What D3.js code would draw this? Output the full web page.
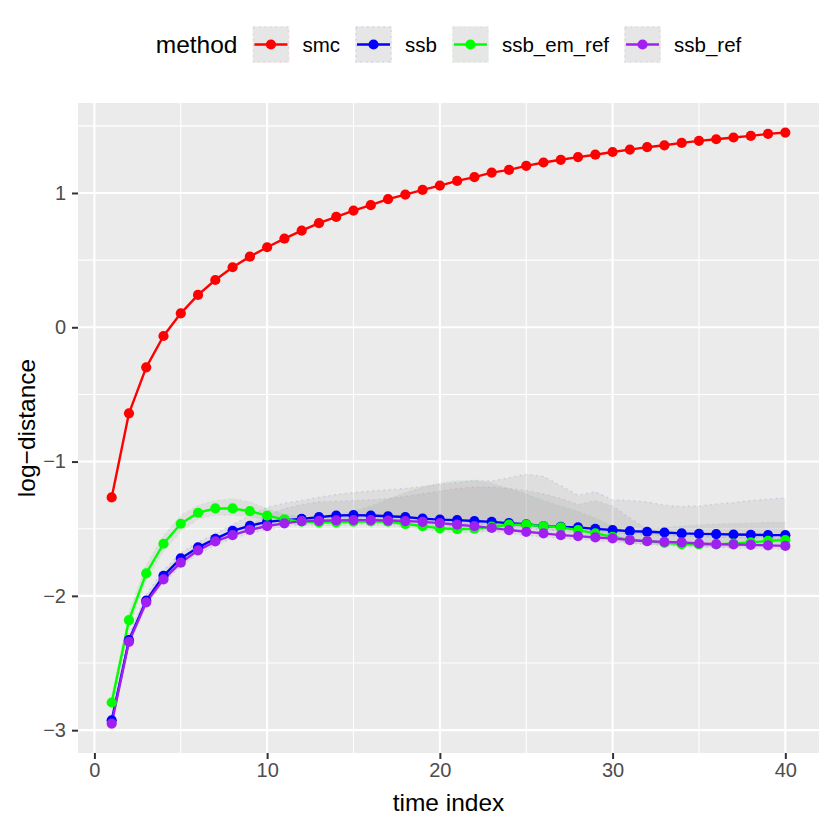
<!DOCTYPE html>
<html lang="en">
<head>
    <meta charset="UTF-8">
    <title>log-distance by method</title>
    <script src="https://d3js.org/d3.v7.min.js"></script>
    <style>
        body { margin: 0; background: #fff; }
        text { font-family: "Liberation Sans", Arial, sans-serif; }
    </style>
</head>
<body>
    <svg id="chart"></svg>

    <script>
        // time index 1..40
        const timeIndex = d3.range(1, 41);

        const methods = ["smc", "ssb", "ssb_em_ref", "ssb_ref"];
        const colors = ["#FF0000", "#0000FF", "#00FF00", "#A020F0"];

        const smc = [-1.267, -0.641, -0.298, -0.065, 0.104, 0.241, 0.352, 0.447, 0.526, 0.596,
            0.66, 0.72, 0.775, 0.822, 0.869, 0.909, 0.954, 0.988, 1.023, 1.055,
            1.09, 1.118, 1.152, 1.172, 1.202, 1.227, 1.247, 1.267, 1.285, 1.305,
            1.323, 1.341, 1.355, 1.373, 1.388, 1.40, 1.413, 1.425, 1.44, 1.45];
        const ssb = [-2.926, -2.33, -2.035, -1.851, -1.721, -1.639, -1.575, -1.516, -1.478, -1.449,
            -1.436, -1.427, -1.414, -1.402, -1.399, -1.402, -1.407, -1.413, -1.425, -1.432,
            -1.436, -1.443, -1.449, -1.458, -1.467, -1.481, -1.486, -1.49, -1.501, -1.51,
            -1.518, -1.523, -1.528, -1.535, -1.538, -1.54, -1.543, -1.545, -1.548, -1.548];
        const ssbEmRef = [-2.794, -2.181, -1.833, -1.612, -1.463, -1.381, -1.349, -1.349, -1.369, -1.403,
            -1.43, -1.447, -1.452, -1.452, -1.447, -1.445, -1.448, -1.465, -1.48, -1.497,
            -1.504, -1.50, -1.485, -1.47, -1.47, -1.481, -1.49, -1.51, -1.535, -1.56,
            -1.583, -1.593, -1.605, -1.615, -1.617, -1.617, -1.61, -1.602, -1.59, -1.585];
        const ssbRef = [-2.951, -2.342, -2.048, -1.877, -1.753, -1.661, -1.594, -1.547, -1.508, -1.48,
            -1.46, -1.443, -1.441, -1.438, -1.436, -1.436, -1.439, -1.443, -1.449, -1.458,
            -1.47, -1.481, -1.494, -1.51, -1.523, -1.535, -1.548, -1.555, -1.565, -1.572,
            -1.585, -1.593, -1.598, -1.602, -1.61, -1.615, -1.617, -1.62, -1.624, -1.628];

        // ribbon bounds
        const ssbLo = [-2.96, -2.36, -2.065, -1.88, -1.75, -1.67, -1.605, -1.545, -1.505, -1.475,
            -1.46, -1.45, -1.44, -1.43, -1.425, -1.425, -1.43, -1.435, -1.445, -1.455,
            -1.46, -1.465, -1.47, -1.48, -1.49, -1.505, -1.51, -1.515, -1.525, -1.535,
            -1.54, -1.545, -1.55, -1.555, -1.56, -1.565, -1.565, -1.57, -1.57, -1.575];
        const ssbHi = [-2.89, -2.29, -1.99, -1.81, -1.68, -1.60, -1.535, -1.47, -1.40, -1.34,
            -1.31, -1.29, -1.265, -1.245, -1.23, -1.22, -1.21, -1.20, -1.185, -1.17,
            -1.155, -1.14, -1.145, -1.12, -1.095, -1.11, -1.18, -1.25, -1.225, -1.285,
            -1.29, -1.30, -1.325, -1.335, -1.33, -1.315, -1.305, -1.29, -1.28, -1.27];
        const ssbEmRefLo = [-2.85, -2.24, -1.89, -1.67, -1.52, -1.43, -1.40, -1.40, -1.41, -1.435,
            -1.46, -1.475, -1.48, -1.48, -1.475, -1.475, -1.48, -1.49, -1.505, -1.52,
            -1.53, -1.53, -1.52, -1.505, -1.505, -1.51, -1.52, -1.54, -1.56, -1.585,
            -1.605, -1.615, -1.625, -1.635, -1.64, -1.64, -1.635, -1.63, -1.62, -1.615];
        const ssbEmRefHi = [-2.74, -2.12, -1.77, -1.55, -1.40, -1.325, -1.29, -1.275, -1.30, -1.35,
            -1.39, -1.41, -1.42, -1.40, -1.37, -1.33, -1.28, -1.23, -1.19, -1.16,
            -1.14, -1.14, -1.16, -1.20, -1.24, -1.29, -1.33, -1.37, -1.42, -1.48,
            -1.52, -1.50, -1.49, -1.48, -1.47, -1.465, -1.46, -1.455, -1.45, -1.45];
        const ssbRefLo = [-2.98, -2.37, -2.075, -1.905, -1.78, -1.69, -1.625, -1.575, -1.535, -1.505,
            -1.485, -1.47, -1.465, -1.465, -1.46, -1.46, -1.465, -1.47, -1.475, -1.485,
            -1.495, -1.505, -1.52, -1.535, -1.55, -1.56, -1.575, -1.58, -1.59, -1.60,
            -1.61, -1.62, -1.625, -1.63, -1.635, -1.64, -1.645, -1.645, -1.65, -1.655];
        const ssbRefHi = [-2.92, -2.31, -2.015, -1.845, -1.72, -1.63, -1.565, -1.515, -1.475, -1.40,
            -1.35, -1.32, -1.30, -1.295, -1.29, -1.285, -1.275, -1.26, -1.24, -1.22,
            -1.20, -1.19, -1.19, -1.20, -1.215, -1.24, -1.275, -1.32, -1.29, -1.33,
            -1.42, -1.50, -1.53, -1.55, -1.555, -1.56, -1.56, -1.565, -1.565, -1.57];

        const xTicks = [0, 10, 20, 30, 40];
        const xMinor = [5, 15, 25, 35];
        const yTicks = [-3, -2, -1, 0, 1];
        const yMinor = [-2.5, -1.5, -0.5, 0.5, 1.5];

        const series = [
            { name: "smc", values: smc, color: colors[0] },
            { name: "ssb", values: ssb, lo: ssbLo, hi: ssbHi, color: colors[1] },
            { name: "ssb_em_ref", values: ssbEmRef, lo: ssbEmRefLo, hi: ssbEmRefHi, color: colors[2] },
            { name: "ssb_ref", values: ssbRef, lo: ssbRefLo, hi: ssbRefHi, color: colors[3] }
        ];

        const width = 830, height = 830;
        const panel = { left: 78, right: 819, top: 103, bottom: 753 };
        const ptR = 5.1, lineW = 2.4;

        const svg = d3.select("#chart").attr("width", width).attr("height", height);

        const x = d3.scaleLinear().domain([-0.95, 41.95]).range([panel.left, panel.right]);
        const y = d3.scaleLinear().domain([-3.17, 1.67]).range([panel.bottom, panel.top]);

        // panel + grid
        svg.append("rect")
            .attr("x", panel.left).attr("y", panel.top)
            .attr("width", panel.right - panel.left).attr("height", panel.bottom - panel.top)
            .attr("fill", "#EBEBEB");

        const grid = svg.append("g");
        grid.selectAll(".xmin").data(xMinor).enter().append("line")
            .attr("x1", d => x(d)).attr("x2", d => x(d))
            .attr("y1", panel.top).attr("y2", panel.bottom)
            .attr("stroke", "#fff").attr("stroke-width", 1.1);
        grid.selectAll(".ymin").data(yMinor).enter().append("line")
            .attr("y1", d => y(d)).attr("y2", d => y(d))
            .attr("x1", panel.left).attr("x2", panel.right)
            .attr("stroke", "#fff").attr("stroke-width", 1.1);
        grid.selectAll(".xmaj").data(xTicks).enter().append("line")
            .attr("x1", d => x(d)).attr("x2", d => x(d))
            .attr("y1", panel.top).attr("y2", panel.bottom)
            .attr("stroke", "#fff").attr("stroke-width", 2.1);
        grid.selectAll(".ymaj").data(yTicks).enter().append("line")
            .attr("y1", d => y(d)).attr("y2", d => y(d))
            .attr("x1", panel.left).attr("x2", panel.right)
            .attr("stroke", "#fff").attr("stroke-width", 2.1);

        // ribbons
        const area = d3.area()
            .x(d => x(d.t)).y0(d => y(d.lo)).y1(d => y(d.hi));
        const edge = d3.line().x(d => x(d[0])).y(d => y(d[1]));

        const ribbons = svg.append("g");
        series.filter(s => s.lo).forEach(s => {
            const pts = timeIndex.map((t, i) => ({ t: t, lo: s.lo[i], hi: s.hi[i] }));
            ribbons.append("path")
                .attr("d", area(pts))
                .attr("fill", "#7F7F7F").attr("fill-opacity", 0.115);
            [s.lo, s.hi].forEach(b => {
                ribbons.append("path")
                    .attr("d", edge(timeIndex.map((t, i) => [t, b[i]])))
                    .attr("fill", "none")
                    .attr("stroke", s.color).attr("stroke-opacity", 0.12)
                    .attr("stroke-width", 1.5).attr("stroke-dasharray", "1.5,4");
            });
        });

        // lines, then points
        const line = d3.line().x((d, i) => x(timeIndex[i])).y(d => y(d));
        svg.append("g").selectAll("path").data(series).enter().append("path")
            .attr("d", d => line(d.values))
            .attr("fill", "none").attr("stroke", d => d.color)
            .attr("stroke-width", lineW).attr("stroke-linejoin", "round");

        series.forEach(s => {
            svg.append("g").selectAll("circle").data(s.values).enter().append("circle")
                .attr("cx", (d, i) => x(timeIndex[i])).attr("cy", d => y(d))
                .attr("r", ptR).attr("fill", s.color);
        });

        // axes
        const xAxis = svg.append("g")
            .attr("transform", `translate(0,${panel.bottom})`)
            .call(d3.axisBottom(x).tickValues(xTicks).tickSize(6).tickPadding(4));
        const yAxis = svg.append("g")
            .attr("transform", `translate(${panel.left},0)`)
            .call(d3.axisLeft(y).tickValues(yTicks).tickSize(6).tickPadding(6)
                .tickFormat(d => d < 0 ? "\u2212" + Math.abs(d) : d));
        [xAxis, yAxis].forEach(a => {
            a.select(".domain").remove();
            a.selectAll(".tick line").attr("stroke", "#333").attr("stroke-width", 2);
            a.selectAll(".tick text").attr("fill", "#4D4D4D")
                .style("font-size", "20px").style("font-family", "Liberation Sans, Arial, sans-serif");
        });

        svg.append("text")
            .attr("x", (panel.left + panel.right) / 2).attr("y", 811)
            .attr("text-anchor", "middle").style("font-size", "24.5px")
            .text("time index");
        svg.append("text")
            .attr("transform", `translate(35,${(panel.top + panel.bottom) / 2}) rotate(-90)`)
            .attr("text-anchor", "middle").style("font-size", "24.5px")
            .text("log\u2212distance");

        // legend
        const legend = svg.append("g");
        const keySize = 37, keyY = 26;
        const title = legend.append("text")
            .attr("x", 0).attr("y", keyY + keySize / 2 + 8.5)
            .style("font-size", "24.5px").text("method");
        let cx = title.node().getComputedTextLength() + 15;
        series.forEach(s => {
            const k = legend.append("g").attr("transform", `translate(${cx},${keyY})`);
            k.append("rect").attr("width", keySize).attr("height", keySize).attr("fill", "#F2F2F2");
            k.append("rect").attr("x", 1).attr("y", 1)
                .attr("width", keySize - 2).attr("height", keySize - 2)
                .attr("fill", "#7F7F7F").attr("fill-opacity", 0.1)
                .attr("stroke", s.color).attr("stroke-opacity", 0.12)
                .attr("stroke-width", 1.5).attr("stroke-dasharray", "1.5,4");
            k.append("line").attr("x1", 2).attr("x2", keySize - 2)
                .attr("y1", keySize / 2).attr("y2", keySize / 2)
                .attr("stroke", s.color).attr("stroke-width", lineW);
            k.append("circle").attr("cx", keySize / 2).attr("cy", keySize / 2)
                .attr("r", ptR).attr("fill", s.color);
            const lab = legend.append("text")
                .attr("x", cx + keySize + 13).attr("y", keyY + keySize / 2 + 7.5)
                .style("font-size", "20.5px").text(s.name);
            cx += keySize + 13 + lab.node().getComputedTextLength() + 15;
        });
        const legendWidth = cx - 15;
        legend.attr("transform", `translate(${(panel.left + panel.right) / 2 - legendWidth / 2},0)`);
    </script>
</body>
</html>
